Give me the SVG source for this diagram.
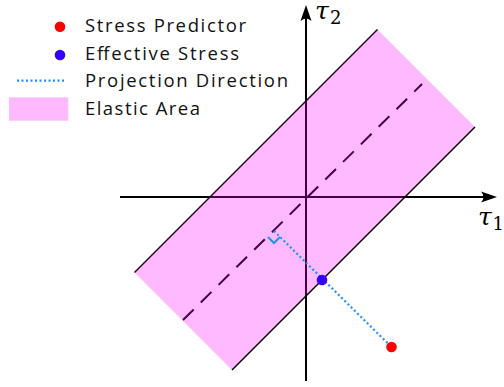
<svg xmlns="http://www.w3.org/2000/svg" width="504" height="387" viewBox="0 0 504 387">
  <style>
    .lbl { font-family: "Open Sans", "Lato", "DejaVu Sans", sans-serif; font-size: 18.5px; fill: #111; }
    .math { font-family: "DejaVu Serif", "Liberation Serif", serif; fill: #000; }
    .axis { stroke: #000; stroke-width: 2; fill: none; }
    .edge { stroke: #000; stroke-width: 1.5; fill: none; }
    .band { fill: #ff00ff; fill-opacity: 0.27; stroke: none; }
    .center { stroke: #000; stroke-width: 2; stroke-dasharray: 15 10; fill: none; }
    .proj { stroke: #1e90ff; stroke-width: 2.2; stroke-dasharray: 2 2.5; fill: none; }
    .head { fill: #000; stroke: none; }
  </style>

  <g id="connectors">
    <g id="axis-t1">
      <line class="axis" x1="120" y1="197" x2="488" y2="197"/>
      <path class="head" d="M497,197 L481,191.5 Q486,197 481,202.5 Z"/>
    </g>
    <g id="axis-t2">
      <line class="axis" x1="306" y1="381" x2="306" y2="14"/>
      <path class="head" d="M306,5 L300.5,21 Q306,16 311.5,21 Z"/>
    </g>
    <line id="center-line" class="center" x1="183" y1="320" x2="422" y2="84"/>
    <line id="upper-edge" class="edge" x1="377.5" y1="29.5" x2="134.5" y2="272.5"/>
  </g>

  <g id="elastic-area">
    <polygon class="band" points="377.5,29.5 475,127 232,370 134.5,272.5"/>
  </g>

  <g id="connectors-top">
    <line id="lower-edge" class="edge" x1="475" y1="127" x2="232" y2="370"/>
    <line id="projection" class="proj" x1="274" y1="231" x2="391.5" y2="347"/>
    <polyline id="right-angle" points="268,237 274,243 280,237" fill="none" stroke="#1e90ff" stroke-width="2"/>
  </g>

  <g id="effective-stress">
    <circle cx="322" cy="280" r="5.3" fill="#3300ff"/>
  </g>
  <g id="stress-predictor">
    <circle cx="391.5" cy="347" r="5.3" fill="#ff0000"/>
  </g>

  <g id="label-t1">
    <text class="math" x="478" y="225" font-size="25" font-style="italic">τ</text>
    <text class="math" x="492.5" y="230" font-size="18">1</text>
  </g>
  <g id="label-t2">
    <text class="math" x="315" y="19" font-size="25" font-style="italic">τ</text>
    <text class="math" x="330" y="24" font-size="18">2</text>
  </g>

  <g id="legend">
    <g id="legend-predictor">
      <circle cx="60" cy="26.7" r="5.3" fill="#ff0000"/>
      <text class="lbl" x="85" y="31.7" textLength="161" lengthAdjust="spacing">Stress Predictor</text>
    </g>
    <g id="legend-effective">
      <circle cx="60" cy="55" r="5.3" fill="#3300ff"/>
      <text class="lbl" x="85" y="60" textLength="154" lengthAdjust="spacing">Effective Stress</text>
    </g>
    <g id="legend-projection">
      <line class="proj" x1="17" y1="80.7" x2="66" y2="80.7"/>
      <text class="lbl" x="85" y="87.3" textLength="203" lengthAdjust="spacing">Projection Direction</text>
    </g>
    <g id="legend-elastic">
      <rect x="9" y="97.3" width="59.3" height="23.4" class="band"/>
      <text class="lbl" x="85" y="115" textLength="115" lengthAdjust="spacing">Elastic Area</text>
    </g>
  </g>
</svg>
